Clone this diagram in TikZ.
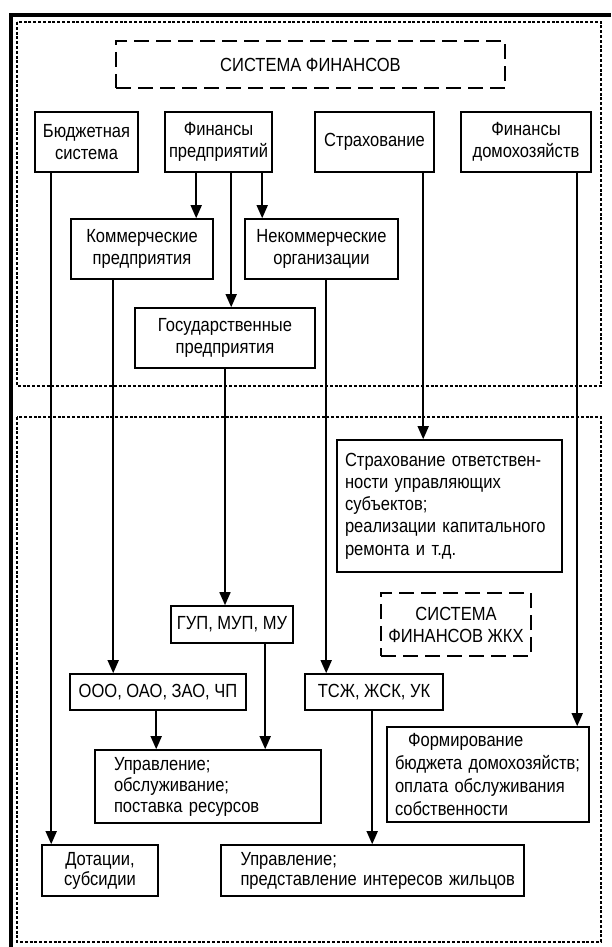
\documentclass[tikz,border=0pt]{standalone}
\usepackage{fontspec}
\setmainfont[FakeStretch=0.87]{Liberation Sans}
\usetikzlibrary{arrows.meta}
\begin{document}
\begin{tikzpicture}[x=1pt,y=-1pt,
  box/.style={draw, line width=1.6pt, inner ysep=0pt, inner xsep=0pt, align=center, font=\fontsize{19}{22}\selectfont},
  sz/.style 2 args={minimum width=#1pt, minimum height=#2pt},
  dbox/.style={box, line width=2pt, dash pattern=on 15pt off 7pt},
  arr/.style={line width=1.6pt, -{Triangle[length=13pt,width=11pt]}},
  zone/.style={line width=2.2pt, dash pattern=on 3pt off 1.8pt},
  frame/.style={line width=4pt}]
\useasboundingbox (0,0) rectangle (611,947);
% frames
\draw[frame] (11,947) -- (11,15) -- (611,15);
\draw[zone] (17,22) rectangle (601,386);
\draw[zone] (17,417) rectangle (601,942);
% nodes
\node[dbox, sz={389}{47}] (title) at (310.5,64.5) {СИСТЕМА ФИНАНСОВ};
\node[box, sz={103}{60}] (bud) at (86.5,142) {Бюджетная\\система};
\node[box, sz={107}{60}] (fp) at (218.5,142) {Финансы\\предприятий};
\node[box, sz={119}{60}] (str) at (374.5,142) {Страхование};
\node[box, sz={130}{60}] (fd) at (526,142) {Финансы\\домохозяйств};
\node[box, sz={142}{60}] (kom) at (142,249) {Коммерческие\\предприятия};
\node[box, sz={153}{60}] (nek) at (321.5,249) {Некоммерческие\\организации};
\node[box, sz={180}{60}] (gos) at (225,338) {Государственные\\предприятия};
\node[box, sz={225}{132}, align=left, text width=209pt, font=\fontsize{19}{22.3}\selectfont] (otv) at (449.5,506)
  {Страхование~ответствен-\\ности~управляющих\\субъектов;\\реализации~капитального\\ремонта~и~т.д.};
\node[box, sz={122}{37}] (gup) at (232,624.5) {ГУП, МУП, МУ};
\node[dbox, sz={150}{63}] (zhkh) at (456,624.5) {СИСТЕМА\\ФИНАНСОВ ЖКХ};
\node[box, sz={176}{36}] (ooo) at (158,692) {ООО, ОАО, ЗАО, ЧП};
\node[box, sz={138}{36}] (tsj) at (374,692) {ТСЖ, ЖСК, УК};
\node[box, sz={202}{95}, align=left, text width=186pt, font=\fontsize{19}{23}\selectfont] (form) at (488,774.5)
  {\hspace*{13pt}Формирование\\бюджета~домохозяйств;\\оплата~обслуживания\\собственности};
\node[box, sz={226}{73}, align=left, text width=188pt, font=\fontsize{19}{21}\selectfont] (upr1) at (208,786.5)
  {Управление;\\обслуживание;\\поставка~ресурсов};
\node[box, sz={116}{51}, font=\fontsize{19}{20}\selectfont] (dot) at (100,870.5) {Дотации,\\субсидии};
\node[box, sz={303}{51}, align=left, text width=264pt, font=\fontsize{19}{20}\selectfont] (upr2) at (372.5,870.5)
  {Управление;\\представление~интересов~жильцов};
% connector start points
\coordinate (b1) at ([xshift=17pt]bud.south west);
\coordinate (f1) at ([xshift=32pt]fp.south west);
\coordinate (f2) at ([xshift=67pt]fp.south west);
\coordinate (f3) at ([xshift=98pt]fp.south west);
\coordinate (s1) at ([xshift=109pt]str.south west);
\coordinate (d1) at ([xshift=117pt]fd.south west);
\coordinate (k1) at ([xshift=43pt]kom.south west);
\coordinate (n1) at ([xshift=82pt]nek.south west);
\coordinate (g1) at (gos.south);
\coordinate (o1) at ([xshift=87pt]ooo.south west);
\coordinate (u1) at ([xshift=95pt]gup.south west);
\coordinate (t1) at ([xshift=68pt]tsj.south west);
% connectors
\draw[arr] (b1) -- (b1 |- dot.north);
\draw[arr] (f1) -- (f1 |- kom.north);
\draw[arr] (f2) -- (f2 |- gos.north);
\draw[arr] (f3) -- (f3 |- nek.north);
\draw[arr] (s1) -- (s1 |- otv.north);
\draw[arr] (d1) -- (d1 |- form.north);
\draw[arr] (k1) -- (k1 |- ooo.north);
\draw[arr] (n1) -- (n1 |- tsj.north);
\draw[arr] (g1) -- (g1 |- gup.north);
\draw[arr] (o1) -- (o1 |- upr1.north);
\draw[arr] (u1) -- (u1 |- upr1.north);
\draw[arr] (t1) -- (t1 |- upr2.north);
\end{tikzpicture}
\end{document}
